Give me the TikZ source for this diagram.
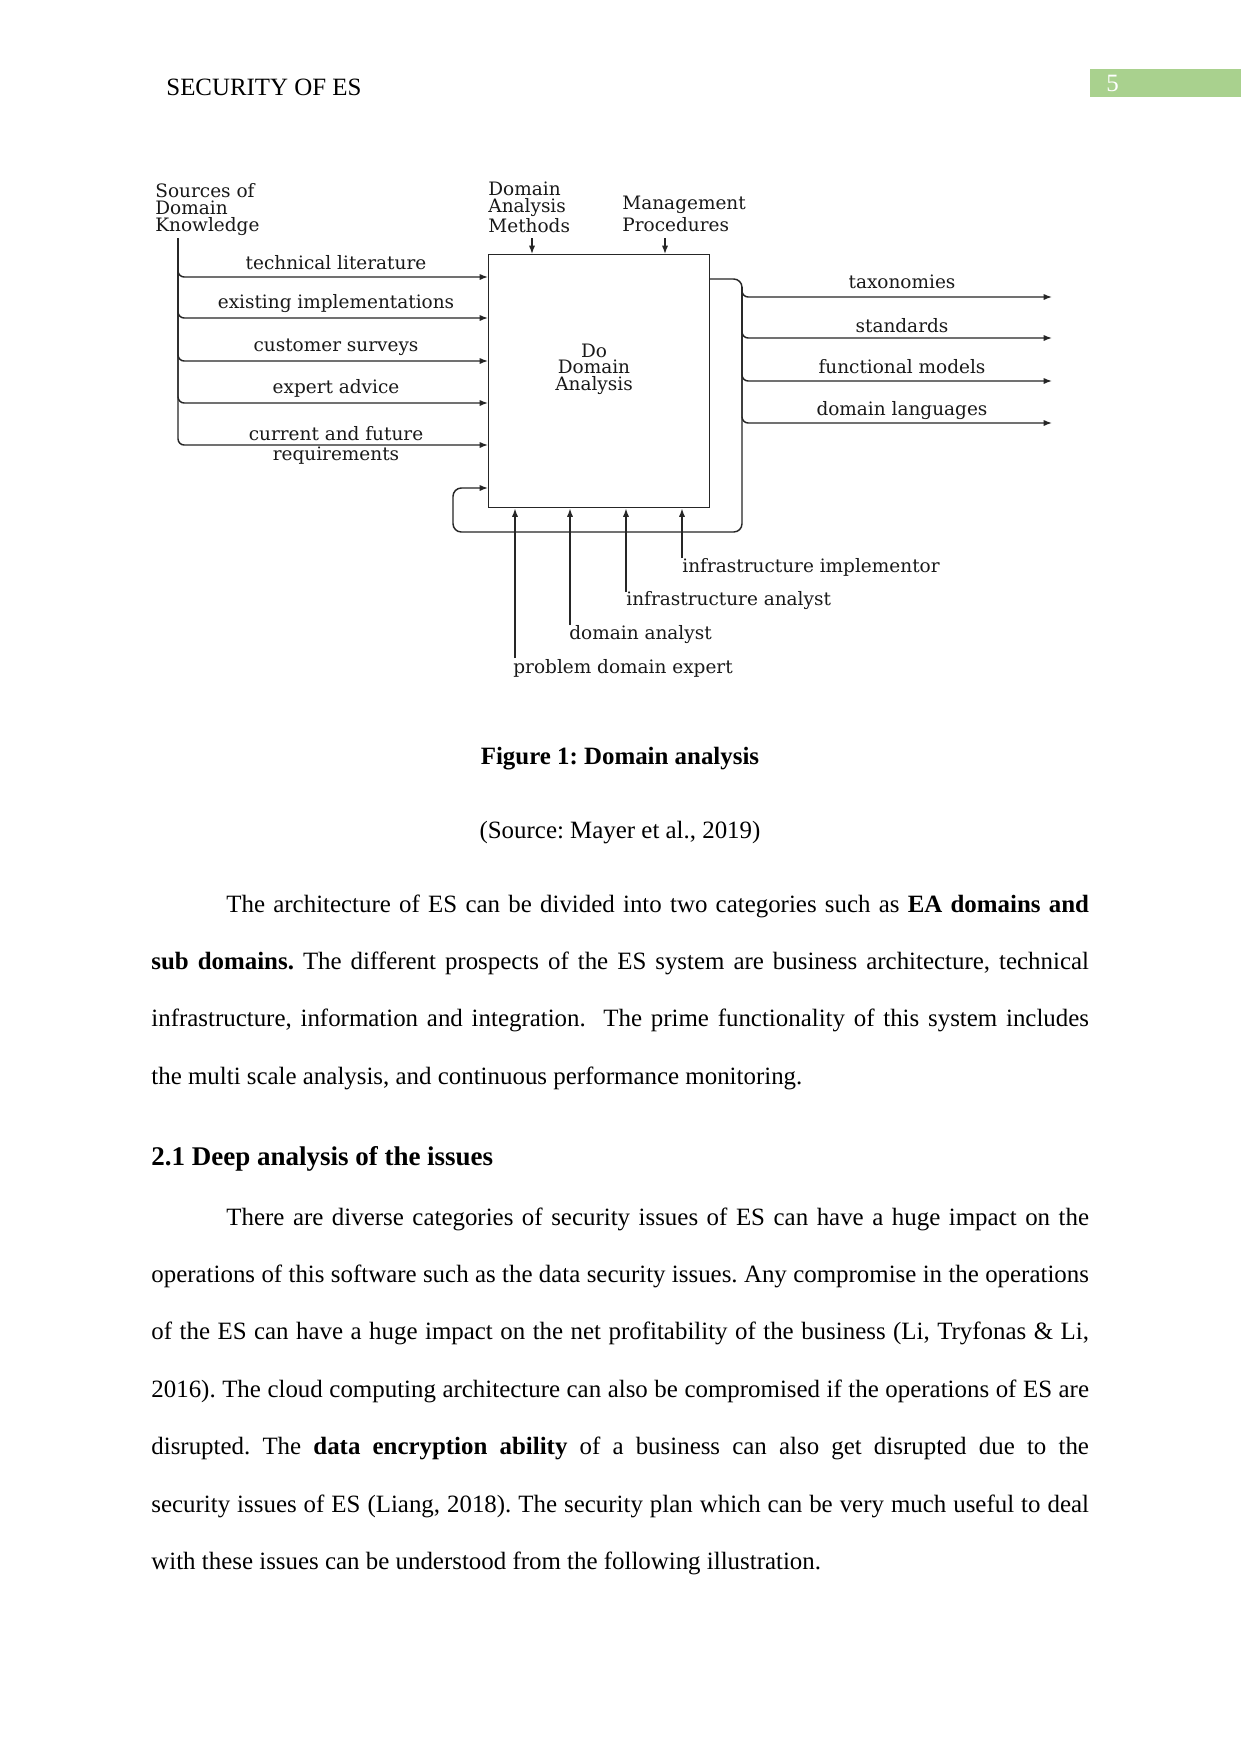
\documentclass[tikz,border=0pt]{standalone}
\usepackage{fontspec}
\setmainfont{Liberation Serif}
\newfontfamily\figfont{DejaVu Serif}
\usetikzlibrary{arrows.meta}
\definecolor{hdrgreen}{HTML}{A9D18E}
\definecolor{lc}{gray}{0.15}
\newlength\bodyw \setlength\bodyw{451.7pt}
\newlength\indw \setlength\indw{415.6pt}
\begin{document}
\frenchspacing
\begin{tikzpicture}[x=0.48bp,y=-0.48bp,
  lbl/.style={inner sep=0pt, text=black!90, font=\figfont\fontsize{8.9}{8.4}\selectfont},
  flow/.style={draw=lc, line width=0.7pt, -{Latex[length=4pt,width=3pt]}},
  body/.style={anchor=base west, inner sep=0pt, font=\frenchspacing\fontsize{12}{14}\selectfont}]
\useasboundingbox (0,0) rectangle (1241,1754);
\fill[white] (0,0) rectangle (1241,1754);

% header
\node[body] (hdr) at (166,95) {SECURITY OF ES};
\fill[hdrgreen] (1090,69) rectangle (1241,97);
\node[body, text=white] (pg) at (1106,91) {5};

% ---- diagram ----
\node[draw=lc, line width=0.7pt, minimum width=106.08bp, minimum height=121.44bp,
      anchor=north west, inner sep=0pt] (box) at (488,254) {};
\node[lbl, align=center, font=\figfont\fontsize{8.9}{7.95}\selectfont] (boxtxt) at (594,369) {Do\\Domain\\Analysis};

\node[lbl, align=left, anchor=north west, font=\figfont\fontsize{8.9}{8.1}\selectfont] (src) at (155,183) {Sources of\\Domain\\Knowledge};
\node[lbl, align=left, anchor=north west] (dam) at (488,181) {Domain\\Analysis\\Methods};
\node[lbl, align=left, anchor=north west, font=\figfont\fontsize{8.9}{10.6}\selectfont] (mgp) at (622,196) {Management\\Procedures};

% controls
\coordinate (c1) at (532,238);
\coordinate (c2) at (665,238);
\draw[flow] (c1) -- (c1 |- box.north);
\draw[flow] (c2) -- (c2 |- box.north);

% inputs
\coordinate (ibus) at (178,238);
\coordinate (i1) at (488,277);
\coordinate (i2) at (488,318);
\coordinate (i3) at (488,361);
\coordinate (i4) at (488,403);
\coordinate (i5) at (488,445);
\foreach \t in {i1,i2,i3,i4,i5}
  \draw[flow, rounded corners=3pt] (ibus) |- (\t);
\node[lbl, anchor=base] (t1) at (336,269) {technical literature};
\node[lbl, anchor=base] (t2) at (336,308) {existing implementations};
\node[lbl, anchor=base] (t3) at (336,351) {customer surveys};
\node[lbl, anchor=base] (t4) at (336,393) {expert advice};
\node[lbl, align=center, font=\figfont\fontsize{8.9}{9.6}\selectfont] (t5) at (336,445) {current and future\\requirements};

% outputs and feedback
\coordinate (o0) at (709,279);
\coordinate (obus) at (742,287);
\coordinate (fb) at (488,488);
\draw[flow, rounded corners=4pt] (o0) -- (742,279) -- (742,532) -- (453,532) -- (453,488) -- (fb);
\coordinate (e1) at (1052,297);
\coordinate (e2) at (1052,338);
\coordinate (e3) at (1052,381);
\coordinate (e4) at (1052,423);
\foreach \t in {e1,e2,e3,e4}
  \draw[flow, rounded corners=3pt] (obus) |- (\t);
\node[lbl, anchor=base] (r1) at (902,288) {taxonomies};
\node[lbl, anchor=base] (r2) at (902,332) {standards};
\node[lbl, anchor=base] (r3) at (902,373) {functional models};
\node[lbl, anchor=base] (r4) at (902,415) {domain languages};

% mechanisms
\coordinate (m1) at (515,658);
\coordinate (m2) at (570,625);
\coordinate (m3) at (626,592);
\coordinate (m4) at (682,558);
\foreach \t in {m1,m2,m3,m4}
  \draw[flow] (\t) -- (\t |- box.south);
\node[lbl, anchor=base west] (ml1) at (513,673) {problem domain expert};
\node[lbl, anchor=base west] (ml2) at (569,639) {domain analyst};
\node[lbl, anchor=base west] (ml3) at (626,605) {infrastructure analyst};
\node[lbl, anchor=base west] (ml4) at (682,572) {infrastructure implementor};

% captions
\node[body, anchor=base] (cap) at (620,764) {\textbf{Figure 1: Domain analysis}};
\node[body, anchor=base] (srcline) at (620,838) {(Source: Mayer et al., 2019)};

% paragraph 1
\node[body] (p1a) at (226,912) {\makebox[\indw][s]{The architecture of ES can be divided into two categories such as \textbf{EA domains and}}};
\node[body] (p1b) at (151,969.4) {\makebox[\bodyw][s]{\textbf{sub domains.} The different prospects of the ES system are business architecture, technical}};
\node[body] (p1c) at (151,1026.8) {\makebox[\bodyw][s]{infrastructure, information and integration.\ \ The prime functionality of this system includes}};
\node[body] (p1d) at (151,1084.2) {the multi scale analysis, and continuous performance monitoring.};

% heading
\node[body, font=\frenchspacing\fontsize{13}{15}\selectfont] (h21) at (151,1165) {\textbf{2.1 Deep analysis of the issues}};

% paragraph 2
\node[body] (p2a) at (226,1225) {\makebox[\indw][s]{There are diverse categories of security issues of ES can have a huge impact on the}};
\node[body] (p2b) at (151,1282.4) {\makebox[\bodyw][s]{operations of this software such as the data security issues. Any compromise in the operations}};
\node[body] (p2c) at (151,1339.8) {\makebox[\bodyw][s]{of the ES can have a huge impact on the net profitability of the business (Li, Tryfonas \& Li,}};
\node[body] (p2d) at (151,1397.2) {\makebox[\bodyw][s]{2016). The cloud computing architecture can also be compromised if the operations of ES are}};
\node[body] (p2e) at (151,1454.6) {\makebox[\bodyw][s]{disrupted. The \textbf{data encryption ability} of a business can also get disrupted due to the}};
\node[body] (p2f) at (151,1512) {\makebox[\bodyw][s]{security issues of ES (Liang, 2018). The security plan which can be very much useful to deal}};
\node[body] (p2g) at (151,1569.4) {with these issues can be understood from the following illustration.};
\end{tikzpicture}
\end{document}
